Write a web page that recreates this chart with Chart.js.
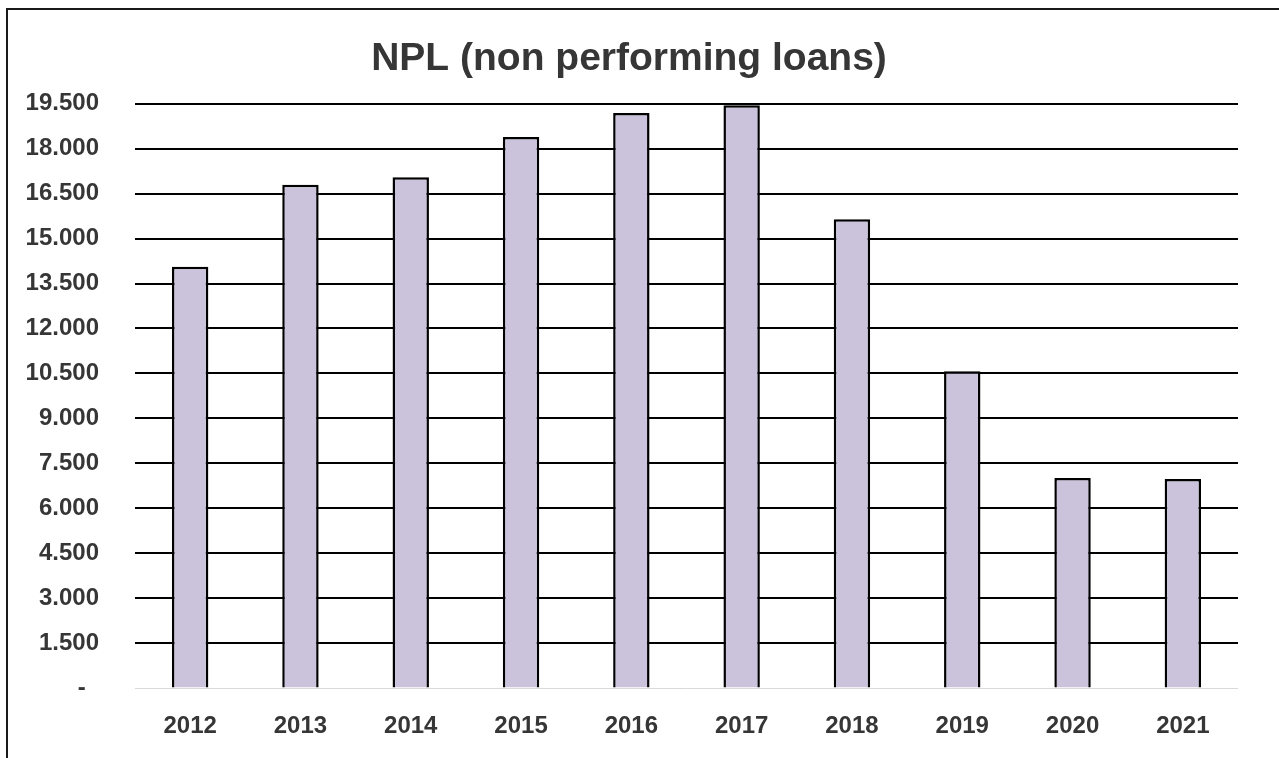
<!DOCTYPE html>
<html>
<head>
<meta charset="utf-8">
<script src="https://cdn.jsdelivr.net/npm/chart.js@4/dist/chart.umd.min.js"></script>
<style>
  html, body { margin: 0; padding: 0; background: #fff; overflow: hidden; }
  #wrap { position: relative; width: 1279px; height: 758px; }
  #frame { position: absolute; left: 6px; top: 8px; width: 1300px; height: 800px;
           border-left: 2px solid #1a1a1a; border-top: 2px solid #1a1a1a; pointer-events: none; }
</style>
</head>
<body>
<div id="wrap">
  <canvas id="nplChart" width="1279" height="758"></canvas>
  <div id="frame"></div>
</div>
<script>
// chart data
const years = ['2012', '2013', '2014', '2015', '2016', '2017', '2018', '2019', '2020', '2021'];
const nplValues = [14060, 16800, 17050, 18390, 19190, 19450, 15650, 10570, 7010, 6980];
const yTickMax = 19500;
const yTickStep = 1500;

const FONT = '"Liberation Sans", Arial, sans-serif';
const TEXT = '#363636';

const ctx = document.getElementById('nplChart').getContext('2d');

new Chart(ctx, {
    type: 'bar',
    data: {
        labels: years,
        datasets: [{
            label: 'NPL',
            data: nplValues,
            backgroundColor: '#cbc3dc', // lavender fill
            borderColor: '#000000',
            borderWidth: 2.5,
            categoryPercentage: 1.0,
            barPercentage: 0.33
        }]
    },
    options: {
        responsive: false,
        animation: false,
        layout: { padding: { left: 20, right: 41, top: 0, bottom: 0 } }, // left pad shifts title centre right
        plugins: {
            legend: { display: false },
            tooltip: { enabled: false },
            title: {
                display: true,
                text: 'NPL (non performing loans)',
                color: TEXT,
                font: { family: FONT, size: 39, weight: 'bold' },
                padding: { top: 36, bottom: 21 }
            }
        },
        scales: {
            x: {
                grid: { display: false, drawTicks: false },
                border: { display: false },
                ticks: {
                    color: TEXT,
                    font: { family: FONT, size: 24, weight: 'bold' },
                    padding: 24,
                    maxRotation: 0
                },
                afterFit: (scale) => { scale.height = 70; }
            },
            y: {
                min: 0,
                max: yTickMax,
                border: { display: false },
                grid: {
                    drawTicks: false,
                    color: (c) => c.tick && c.tick.value === 0 ? '#d9d9d9' : '#000000',
                    lineWidth: (c) => c.tick && c.tick.value === 0 ? 1 : 2
                },
                ticks: {
                    stepSize: yTickStep,
                    color: TEXT,
                    font: { family: FONT, size: 24, weight: 'bold' },
                    padding: 36,
                    callback: (v) => v === 0 ? '-  ' : v.toLocaleString('de-DE')
                },
                afterFit: (scale) => { scale.width = 115; }
            }
        }
    }
});
</script>
</body>
</html>
